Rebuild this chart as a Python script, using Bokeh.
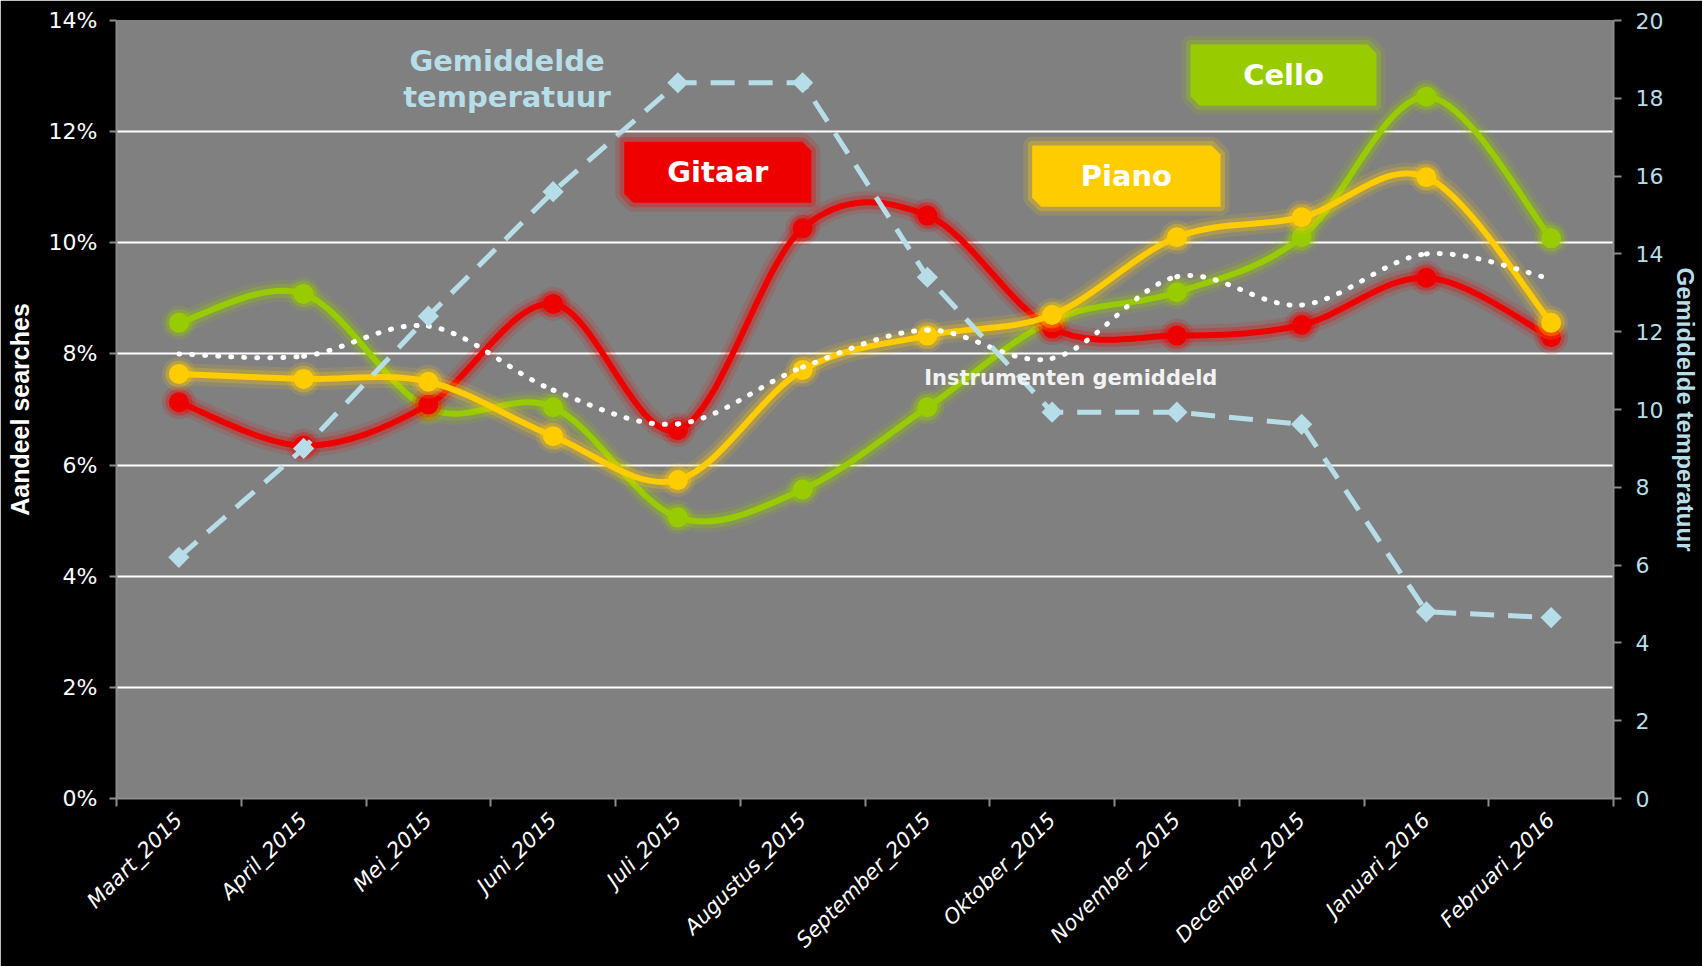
import numpy as np
from bokeh.plotting import figure
from bokeh.models import (Range1d, LinearAxis, FixedTicker, Label,
                          PrintfTickFormatter, CustomJSTickFormatter)
from bokeh.embed import file_html
from bokeh.resources import INLINE

# ---------------- data ----------------
months = ["Maart_2015", "April_2015", "Mei_2015", "Juni_2015", "Juli_2015",
          "Augustus_2015", "September_2015", "Oktober_2015", "November_2015",
          "December_2015", "Januari_2016", "Februari_2016"]
gitaar = [7.13, 6.35, 7.09, 8.90, 6.63, 10.26, 10.49, 8.46, 8.33, 8.52, 9.37, 8.30]
cello = [8.56, 9.08, 7.02, 7.04, 5.06, 5.56, 7.04, 8.60, 9.11, 10.10, 12.63, 10.08]
piano = [7.64, 7.55, 7.50, 6.52, 5.73, 7.71, 8.33, 8.70, 10.10, 10.46, 11.18, 8.56]
gemiddeld = [8.00, 7.96, 8.50, 7.35, 6.74, 7.76, 8.43, 7.92, 9.39, 8.88, 9.80, 9.35]
temperatuur = [6.2, 9.0, 12.4, 15.6, 18.4, 18.4, 13.4, 9.93, 9.93, 9.62, 4.8, 4.65]

left_ticks = [0, 2, 4, 6, 8, 10, 12, 14]
right_ticks = [0, 2, 4, 6, 8, 10, 12, 14, 16, 18, 20]

RED = "#EE0000"
GREEN = "#99CC00"
ORANGE = "#FFCC00"
TEMP = "#B7DEE8"
AXIS = "#8C8C8C"

xs = [i + 0.5 for i in range(len(months))]

p = figure(width=1702, height=966, output_backend="svg", toolbar_location=None,
           x_range=Range1d(0, 12), y_range=Range1d(0, 14),
           min_border_left=116, min_border_right=86, min_border_top=20,
           min_border_bottom=168, background_fill_color="#808080",
           border_fill_color="black", outline_line_color=None)
p.extra_y_ranges = {"temp": Range1d(0, 20)}

# grid
p.xgrid.visible = False
p.ygrid.ticker = FixedTicker(ticks=left_ticks)
p.ygrid.grid_line_color = "white"
p.ygrid.grid_line_width = 2

# left axis
ya = p.yaxis[0]
ya.ticker = FixedTicker(ticks=left_ticks)
ya.formatter = PrintfTickFormatter(format="%d%%")
ya.axis_line_color = AXIS
ya.axis_line_width = 2
ya.major_tick_line_color = AXIS
ya.major_tick_line_width = 2
ya.major_tick_in = 0
ya.major_tick_out = 7
ya.minor_tick_line_color = None
ya.major_label_text_color = "white"
ya.major_label_text_font = "DejaVu Sans"
ya.major_label_text_font_size = "22px"
ya.major_label_standoff = 12
ya.axis_label = "Aandeel searches"
ya.axis_label_text_color = "white"
ya.axis_label_text_font = "Liberation Sans"
ya.axis_label_text_font_style = "bold"
ya.axis_label_text_font_size = "25px"
ya.axis_label_standoff = 12

# right axis
ra = LinearAxis(y_range_name="temp", ticker=FixedTicker(ticks=right_ticks))
ra.axis_line_color = AXIS
ra.axis_line_width = 2
ra.major_tick_line_color = AXIS
ra.major_tick_line_width = 2
ra.major_tick_in = 0
ra.major_tick_out = 8
ra.minor_tick_line_color = None
ra.major_label_text_color = TEMP
ra.major_label_text_font = "DejaVu Sans"
ra.major_label_text_font_size = "22px"
ra.major_label_standoff = 14
ra.axis_label = "Gemiddelde temperatuur"
ra.axis_label_text_color = TEMP
ra.axis_label_text_font = "Liberation Sans"
ra.axis_label_text_font_style = "bold"
ra.axis_label_text_font_size = "24px"
ra.axis_label_standoff = 6
ra.axis_label_orientation = "vertical"
p.add_layout(ra, "right")

# bottom axis
xa = p.xaxis[0]
xa.ticker = FixedTicker(ticks=xs, minor_ticks=list(range(len(months) + 1)))
xa.formatter = CustomJSTickFormatter(args=dict(labels=months),
                                     code="return labels[Math.floor(tick)] || '';")
xa.axis_line_color = AXIS
xa.axis_line_width = 2
xa.major_tick_line_color = None
xa.major_tick_out = 0
xa.major_tick_in = 0
xa.minor_tick_line_color = AXIS
xa.minor_tick_line_width = 2
xa.minor_tick_in = 0
xa.minor_tick_out = 8
xa.major_label_orientation = np.pi / 4
xa.major_label_text_color = "white"
xa.major_label_text_font = "DejaVu Sans"
xa.major_label_text_font_style = "italic"
xa.major_label_text_font_size = "21px"
xa.major_label_standoff = 10


def smooth(xv, yv):
    n = len(xv)
    out = dict(x0=[], y0=[], x1=[], y1=[], cx0=[], cy0=[], cx1=[], cy1=[])
    for i in range(n - 1):
        a = max(i - 1, 0)
        d = min(i + 2, n - 1)
        out["x0"].append(xv[i]); out["y0"].append(yv[i])
        out["x1"].append(xv[i + 1]); out["y1"].append(yv[i + 1])
        out["cx0"].append(xv[i] + (xv[i + 1] - xv[a]) / 6)
        out["cy0"].append(yv[i] + (yv[i + 1] - yv[a]) / 6)
        out["cx1"].append(xv[i + 1] - (xv[d] - xv[i]) / 6)
        out["cy1"].append(yv[i + 1] - (yv[d] - yv[i]) / 6)
    return out


def glow_series(vals, color):
    seg = smooth(xs, vals)
    p.bezier(**seg, line_color=color, line_width=22, line_alpha=0.12)
    p.bezier(**seg, line_color=color, line_width=14, line_alpha=0.25)
    p.bezier(**seg, line_color=color, line_width=6)
    p.scatter(xs, vals, marker="circle", size=34, fill_color=color, fill_alpha=0.15,
              line_color=None)
    p.scatter(xs, vals, marker="circle", size=27, fill_color=color, fill_alpha=0.3,
              line_color=None)
    p.scatter(xs, vals, marker="circle", size=20, fill_color=color, line_color=None)


glow_series(cello, GREEN)
glow_series(gitaar, RED)
glow_series(piano, ORANGE)

# average (dotted, smoothed)
avg_seg = smooth(xs, gemiddeld)
p.bezier(**avg_seg, line_color="white", line_width=5, line_dash="1 12",
         line_cap="round")

# temperature (dashed, straight, right axis)
p.line(xs, temperatuur, y_range_name="temp", line_color=TEMP, line_width=5,
       line_dash="24 14")
p.scatter(xs, temperatuur, y_range_name="temp", marker="square", angle=np.pi / 4,
          size=15, fill_color=TEMP, line_color=None)


# labelled boxes
def tag(x0, x1, y0, y1, color, text):
    cx = 0.072
    cy = 0.162
    bx = [x0, x1 - cx, x1, x1, x0 + cx, x0]
    by = [y1, y1, y1 - cy, y0, y0, y0 + cy]
    p.patch(bx, by, fill_color=color, fill_alpha=0.0, line_color=color,
            line_alpha=0.15, line_width=18, line_join="round")
    p.patch(bx, by, fill_color=color, fill_alpha=0.0, line_color=color,
            line_alpha=0.3, line_width=9, line_join="round")
    p.patch(bx, by, fill_color=color, line_color=None)
    p.add_layout(Label(x=(x0 + x1) / 2, y=(y0 + y1) / 2, text=text,
                       text_align="center", text_baseline="middle",
                       text_color="white", text_font="DejaVu Sans",
                       text_font_style="bold", text_font_size="29px"))


tag(4.07, 5.57, 10.72, 11.82, RED, "Gitaar")
tag(7.34, 8.85, 10.65, 11.75, ORANGE, "Piano")
tag(8.61, 10.10, 12.47, 13.57, GREEN, "Cello")

p.add_layout(Label(x=3.13, y=13.28, text="Gemiddelde", text_align="center",
                   text_baseline="middle", text_color=TEMP, text_font="DejaVu Sans",
                   text_font_style="bold", text_font_size="29px"))
p.add_layout(Label(x=3.13, y=12.63, text="temperatuur", text_align="center",
                   text_baseline="middle", text_color=TEMP, text_font="DejaVu Sans",
                   text_font_style="bold", text_font_size="29px"))
p.add_layout(Label(x=7.65, y=7.57, text="Instrumenten gemiddeld", text_align="center",
                   text_baseline="middle", text_color="#F2F2F2", text_font="DejaVu Sans",
                   text_font_style="bold", text_font_size="21px"))

open("out.html", "w").write(file_html(p, INLINE))
